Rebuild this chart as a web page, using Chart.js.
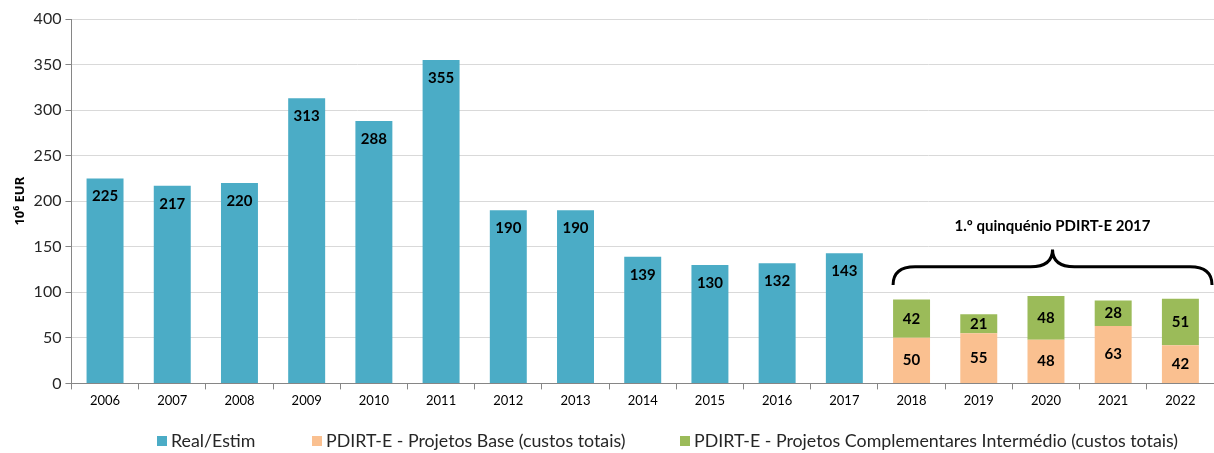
<!DOCTYPE html>
<html>
<head>
<meta charset="utf-8">
<script src="https://cdn.jsdelivr.net/npm/chart.js@4"></script>
<style>
  body { margin: 0; background: #fff; }
  #wrap { width: 1214px; height: 453px; position: relative; }
</style>
</head>
<body>
<div id="wrap"><canvas id="chart"></canvas></div>
<script>
// ---- données ----
const years = ["2006","2007","2008","2009","2010","2011","2012","2013","2014","2015","2016","2017","2018","2019","2020","2021","2022"];
const realEstim = [225,217,220,313,288,355,190,190,139,130,132,143,null,null,null,null,null];
const projetosBase = [null,null,null,null,null,null,null,null,null,null,null,null,50,55,48,63,42];
const projetosCompl = [null,null,null,null,null,null,null,null,null,null,null,null,42,21,48,28,51];
const braceLabel = "1.º quinquénio PDIRT-E 2017";
const braceFirst = 12; // index de 2018

const FONT = "Lato, 'Open Sans', sans-serif";

// étiquettes de valeurs dans les barres
const valueLabels = {
    id: "valueLabels",
    afterDatasetsDraw(chart) {
        const ctx = chart.ctx;
        ctx.save();
        ctx.font = "bold 15px " + FONT;
        ctx.fillStyle = "#000";
        ctx.textAlign = "center";
        ctx.textBaseline = "middle";
        chart.data.datasets.forEach((ds, di) => {
            const meta = chart.getDatasetMeta(di);
            meta.data.forEach((bar, i) => {
                const v = ds.data[i];
                if (v === null || v === undefined) return;
                const y = di === 0 ? bar.y + 18 : (bar.y + bar.base) / 2;
                ctx.fillText(String(v), bar.x, y);
            });
        });
        ctx.restore();
    }
};

// accolade au-dessus du quinquénio
const bracePlugin = {
    id: "brace",
    afterDraw(chart) {
        const ctx = chart.ctx;
        const ys = chart.scales.y;
        const bar = chart.getDatasetMeta(1).data[braceFirst];
        const x0 = bar.x - bar.width / 2;
        const x1 = chart.chartArea.right - 2;
        const mid = (x0 + x1) / 2;
        const yEnd = ys.getPixelForValue(108);
        const yH = ys.getPixelForValue(128);
        const yTip = ys.getPixelForValue(147);
        const r = 22;
        ctx.save();
        ctx.strokeStyle = "#000";
        ctx.lineWidth = 3;
        ctx.beginPath();
        ctx.moveTo(x0, yEnd);
        ctx.quadraticCurveTo(x0, yH, x0 + r, yH);
        ctx.lineTo(mid - r, yH);
        ctx.quadraticCurveTo(mid, yH, mid, yTip);
        ctx.quadraticCurveTo(mid, yH, mid + r, yH);
        ctx.lineTo(x1 - r, yH);
        ctx.quadraticCurveTo(x1, yH, x1, yEnd);
        ctx.stroke();
        ctx.font = "bold 15px " + FONT;
        ctx.fillStyle = "#000";
        ctx.textAlign = "center";
        ctx.textBaseline = "middle";
        ctx.fillText(braceLabel, mid, ys.getPixelForValue(173));
        ctx.restore();
    }
};

// légende dessinée à la main (espacement comme l'original)
const legendStarts = [157, 312, 680];
const customLegend = {
    id: "customLegend",
    afterDraw(chart) {
        const ctx = chart.ctx;
        const y = chart.height - 12;
        ctx.save();
        ctx.font = "17.8px " + FONT;
        ctx.textBaseline = "middle";
        ctx.textAlign = "left";
        chart.data.datasets.forEach((ds, i) => {
            const x = legendStarts[i];
            ctx.fillStyle = ds.backgroundColor;
            ctx.fillRect(x, y - 5, 10, 10);
            ctx.fillStyle = "#262626";
            ctx.fillText(ds.label, x + 14, y);
        });
        ctx.restore();
    }
};

new Chart(document.getElementById("chart"), {
    type: "bar",
    data: {
        labels: years,
        datasets: [
            { label: "Real/Estim", data: realEstim, backgroundColor: "#4BACC6", stack: "s" },
            { label: "PDIRT-E - Projetos Base (custos totais)", data: projetosBase, backgroundColor: "#FAC090", stack: "s" },
            { label: "PDIRT-E - Projetos Complementares Intermédio (custos totais)", data: projetosCompl, backgroundColor: "#9BBB59", stack: "s" }
        ]
    },
    options: {
        responsive: true,
        maintainAspectRatio: false,
        animation: false,
        barPercentage: 0.55,
        categoryPercentage: 1.0,
        layout: { padding: { left: 8, right: 0, top: 19, bottom: 40 } },
        plugins: {
            legend: { display: false },
            tooltip: { enabled: false }
        },
        scales: {
            x: {
                stacked: true,
                grid: { display: true, drawOnChartArea: false, offset: true, tickLength: 6, color: "#868686" },
                border: { color: "#868686" },
                ticks: { color: "#000", font: { family: FONT, size: 13 }, padding: 4 }
            },
            y: {
                stacked: true,
                min: 0,
                max: 400,
                ticks: { stepSize: 50, color: "#262626", font: { family: FONT, size: 16 }, padding: 4 },
                grid: { color: "#d9d9d9", tickColor: "#868686", tickLength: 6 },
                border: { color: "#868686" },
                title: {
                    display: true,
                    text: "10\u2076 EUR",
                    color: "#000",
                    font: { family: "'Noto Sans', 'DejaVu Sans', sans-serif", size: 13, weight: "bold" },
                    padding: { bottom: 2 }
                }
            }
        }
    },
    plugins: [valueLabels, bracePlugin, customLegend]
});
</script>
</body>
</html>
